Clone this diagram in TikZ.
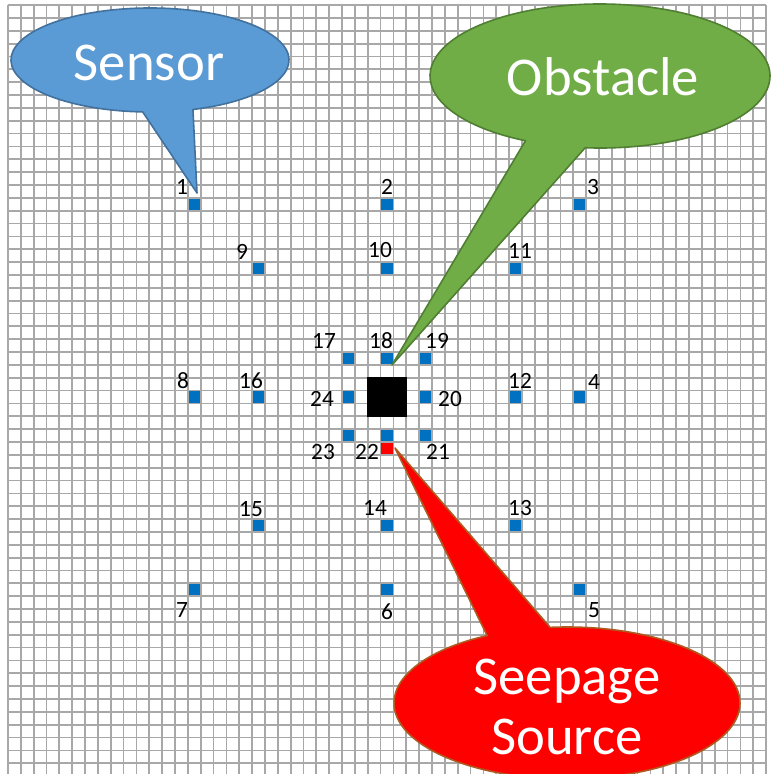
\documentclass[tikz,border=0pt]{standalone}
\usepackage{fontspec}
\setmainfont{Carlito}

\definecolor{gridgrey}{HTML}{A8A8A8}
\definecolor{sensorblue}{HTML}{0070C0}
\definecolor{sensorfill}{HTML}{5B9BD5}
\definecolor{sensoredge}{HTML}{41719C}
\definecolor{obstfill}{HTML}{70AD47}
\definecolor{obstedge}{HTML}{507E32}
\definecolor{leakfill}{HTML}{FF0000}
\definecolor{leakedge}{HTML}{AE5A21}

\begin{document}
\begin{tikzpicture}[x=0.75pt,y=-0.75pt,
  gridline/.style={draw=gridgrey, line width=1.3pt},
  cellmark/.style={draw=none, minimum size=8.3pt, inner sep=0pt, outer sep=0pt},
  sensormark/.style={cellmark, fill=sensorblue},
  num/.style={font=\fontsize{17.5}{19}\selectfont, inner sep=0pt, text=black,
    draw=none},
  bubble/.style={line width=1.2pt, line join=round},
  bubbletext/.style={font=\fontsize{41}{45}\selectfont, text=white, align=center, inner sep=0pt}]

\useasboundingbox (0,0) rectangle (771,774);
\fill[white] (0,0) rectangle (771,774);

% sheet grid
\begin{scope}
  \clip (0,0) rectangle (771,774);
  \foreach \k in {0,...,59}
    \draw[gridline] ({7.95+\k*12.85},5.1) -- ({7.95+\k*12.85},780);
  \foreach \k in {0,...,60}
    \draw[gridline] (7.95,{5.1+\k*12.85}) -- (766.1,{5.1+\k*12.85});
\end{scope}

% sensors, placed in cells relative to the centre cell
\foreach \n/\i/\j in {1/-15/-15, 2/0/-15, 3/15/-15, 4/15/0, 5/15/15, 6/0/15,
    7/-15/15, 8/-15/0, 9/-10/-10, 10/0/-10, 11/10/-10, 12/10/0, 13/10/10,
    14/0/10, 15/-10/10, 16/-10/0, 17/-3/-3, 18/0/-3, 19/3/-3, 20/3/0,
    21/3/3, 22/0/3, 23/-3/3, 24/-3/0}
  \node[sensormark] (s\n) at ({387+\i*12.85},{397+\j*12.85}) {};

% sensor numbers
\foreach \n/\x/\y in {1/182/187, 2/387/187, 3/593/187, 4/594/382, 5/594/610,
    6/387/612, 7/182/610, 8/183/381, 9/242/252, 10/380/250, 11/520/251,
    12/520/381, 13/520/508, 14/375/508, 15/251/509, 16/251/381, 17/324/341,
    18/381/341, 19/437/341, 20/450/399, 21/438/452, 22/367/452, 23/323/452,
    24/322/399}
  \node[num] (l\n) at (\x,\y) {\n};

% obstacle and seepage source
\node[fill=black, minimum size=29.4pt, inner sep=0pt] (obst) at (387,397) {};
\node[cellmark, fill=red] (src) at (387,448.4) {};

% callout tips
\coordinate (sensortip) at (197,193);
\coordinate (obsttip) at (392,365);
\coordinate (leaktip) at (395,448);

% Sensor callout
\filldraw[bubble, fill=sensorfill, draw=sensoredge]
  (150,60) ++(72:139 and 52)
  arc[start angle=72, end angle=-267, x radius=139, y radius=52]
  -- (sensortip) -- cycle;
\node[bubbletext] (sensorlabel) at (149,63) {Sensor};

% Obstacle callout
\filldraw[bubble, fill=obstfill, draw=obstedge]
  (600,76) ++(95:170 and 72)
  arc[start angle=95, end angle=-244, x radius=170, y radius=72]
  -- (obsttip) -- cycle;
\node[bubbletext] (obstlabel) at (603,77) {Obstacle};

% Seepage source callout
\filldraw[bubble, fill=leakfill, draw=leakedge]
  (567,703) ++(-95.6:173 and 76)
  arc[start angle=-95.6, end angle=242.5, x radius=173, y radius=76]
  -- (leaktip) -- cycle;
\node[bubbletext] (leaklabel) at (567,707) {Seepage\\[0pt]Source};

\end{tikzpicture}
\end{document}
